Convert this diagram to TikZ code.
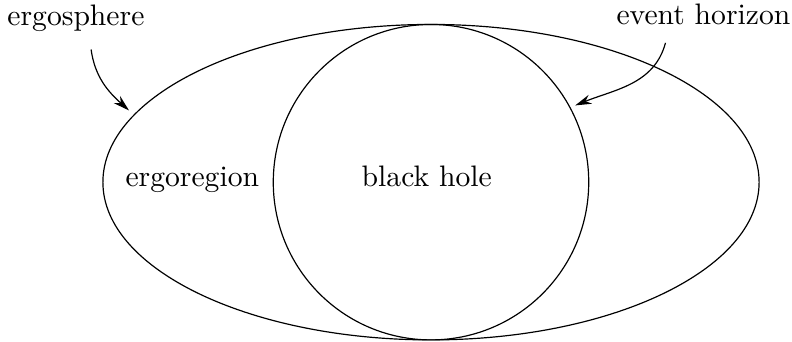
\documentclass[tikz,border=0pt]{standalone}
\usepackage{tikz}
\usetikzlibrary{arrows.meta}

\begin{document}
\begin{tikzpicture}[
  arrow/.style={->, >={Stealth[length=5.5pt, width=3.2pt]}},
  tag/.style={anchor=base},
]
\useasboundingbox (-5.11,-1.89) rectangle (4.28,2.16);

% Ergosphere and horizon
\draw (0,0) ellipse (3.89 and 1.87);
\draw (0,0) circle (1.87);

% Labels
\node[tag] (ergosphere) at (-4.21,1.86) {ergosphere};
\node[tag] (horizon) at (3.23,1.87) {event horizon};
\node[tag] (ergoregion) at (-2.83,-0.05) {ergoregion};
\node[tag] (hole) at (-0.05,-0.05) {black hole};

% Pointers
\coordinate (ergotip) at (-3.58,0.85);
\coordinate (horizontip) at (1.71,0.91);
\draw[arrow] ([xshift=0.18cm, yshift=-0.09cm]ergosphere.south) to[out=-82, in=138] (ergotip);
\draw[arrow] ([xshift=-0.45cm, yshift=-0.09cm]horizon.south) to[out=-105, in=22] (horizontip);
\end{tikzpicture}
\end{document}
